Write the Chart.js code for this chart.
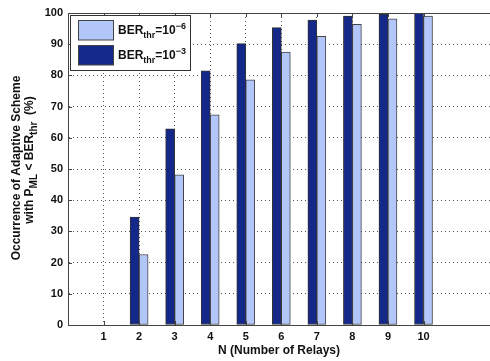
<!DOCTYPE html>
<html>
<head>
<meta charset="utf-8">
<script src="https://cdn.jsdelivr.net/npm/chart.js@4"></script>
<style>
  html, body { margin: 0; padding: 0; background: #fff; }
  #wrap { width: 490px; height: 361px; position: relative; }
</style>
</head>
<body>
<div id="wrap"><canvas id="chart"></canvas></div>
<script>
// data
const relays = [1, 2, 3, 4, 5, 6, 7, 8, 9, 10];
const occurrenceBer3 = [0, 34.6, 62.9, 81.5, 90.2, 95.3, 97.7, 99.0, 99.6, 99.9]; // BER_thr = 10^-3
const occurrenceBer6 = [0, 22.6, 48.1, 67.4, 78.6, 87.5, 92.5, 96.4, 98.1, 99.0]; // BER_thr = 10^-6
const yTicks = [0, 10, 20, 30, 40, 50, 60, 70, 80, 90, 100];
const legendExponents = ["\u22126", "\u22123"];

const darkBlue = "#14288a";
const lightBlue = "#b3c6fa";
const FONT = "'Liberation Sans', Arial, sans-serif";

function richWidth(ctx, parts, size, small) {
  let w = 0;
  for (const [t, k] of parts) {
    ctx.font = "bold " + (k === "n" ? size : small) + "px " + FONT;
    w += ctx.measureText(t).width;
  }
  return w;
}

function drawRich(ctx, parts, x, y, size, small) {
  for (const [t, k] of parts) {
    ctx.font = "bold " + (k === "n" ? size : small) + "px " + FONT;
    const dy = k === "sub" ? 4 : k === "sup" ? -5 : 0;
    ctx.fillText(t, x, y + dy);
    x += ctx.measureText(t).width;
  }
}

// frame, inner tick marks, legend and y title (needs sub/superscripts)
const extras = {
  id: "extras",
  afterDatasetsDraw(chart) {
    const ctx = chart.ctx;
    const area = chart.chartArea;
    const xs = chart.scales.x, ys = chart.scales.y;
    ctx.save();
    ctx.strokeStyle = "#444";
    ctx.lineWidth = 1;
    ctx.beginPath();
    ctx.moveTo(area.left, area.top + 0.5);
    ctx.lineTo(area.right, area.top + 0.5);
    for (const v of relays) {
      const px = Math.round(xs.getPixelForValue(v)) + 0.5;
      ctx.moveTo(px, area.bottom); ctx.lineTo(px, area.bottom - 4);
      ctx.moveTo(px, area.top); ctx.lineTo(px, area.top + 4);
    }
    for (const v of yTicks) {
      const py = Math.round(ys.getPixelForValue(v)) + 0.5;
      ctx.moveTo(area.left, py); ctx.lineTo(area.left + 4, py);
    }
    ctx.stroke();

    // legend
    ctx.fillStyle = "#fff";
    ctx.fillRect(70.5, 15.5, 120, 55);
    ctx.strokeStyle = "#333";
    ctx.strokeRect(70.5, 15.5, 120, 55);
    const colors = [lightBlue, darkBlue];
    const rows = [20.5, 45.5];
    for (let i = 0; i < 2; i++) {
      ctx.fillStyle = colors[i];
      ctx.fillRect(78.5, rows[i], 35, 19.5);
      ctx.strokeStyle = "#444";
      ctx.strokeRect(78.5, rows[i], 35, 19.5);
      ctx.fillStyle = "#111";
      ctx.textBaseline = "alphabetic";
      ctx.textAlign = "left";
      drawRich(ctx, [["BER", "n"], ["thr", "sub"], ["=10", "n"], [legendExponents[i], "sup"]],
        118, rows[i] + 13, 12, 9);
    }

    // y axis title, two rotated lines
    const line1 = [["Occurrence of Adaptive Scheme", "n"]];
    const line2 = [["with P", "n"], ["ML", "sub"], [" < BER", "n"], ["thr", "sub"], ["  (%)", "n"]];
    ctx.fillStyle = "#111";
    [[line1, 20, 168], [line2, 33, 160]].forEach(([parts, bx, cy]) => {
      ctx.save();
      ctx.translate(bx, cy);
      ctx.rotate(-Math.PI / 2);
      const w = richWidth(ctx, parts, 12, 10);
      drawRich(ctx, parts, -w / 2, 0, 12, 10);
      ctx.restore();
    });
    ctx.restore();
  }
};

new Chart(document.getElementById("chart"), {
  type: "bar",
  data: {
    datasets: [
      {
        label: "BER_thr=10^-3",
        data: relays.map((n, i) => ({ x: n, y: occurrenceBer3[i] })),
        backgroundColor: darkBlue,
        borderColor: "#333",
        borderWidth: 1,
        borderSkipped: false,
        barThickness: 9
      },
      {
        label: "BER_thr=10^-6",
        data: relays.map((n, i) => ({ x: n, y: occurrenceBer6[i] })),
        backgroundColor: lightBlue,
        borderColor: "#444",
        borderWidth: 1,
        borderSkipped: false,
        barThickness: 9
      }
    ]
  },
  options: {
    responsive: true,
    maintainAspectRatio: false,
    animation: false,
    layout: { padding: { top: 13, left: 0, right: 0, bottom: 0 } },
    plugins: { legend: { display: false }, tooltip: { enabled: false } },
    scales: {
      x: {
        type: "linear",
        offset: false,
        min: 0,
        max: 11.87,
        afterBuildTicks: (s) => { s.ticks = relays.map((v) => ({ value: v })); },
        afterFit: (s) => { s.height = 36; },
        grid: { color: "#555", drawTicks: false, offset: false },
        border: { color: "#444", dash: [1, 3] },
        ticks: { padding: 5, color: "#111", font: { family: FONT, size: 11, weight: "bold" } },
        title: {
          display: true,
          text: "N (Number of Relays)",
          color: "#111",
          padding: { top: 0, bottom: 3 },
          font: { family: FONT, size: 12, weight: "bold" }
        }
      },
      y: {
        min: 0,
        max: 100,
        afterBuildTicks: (s) => { s.ticks = yTicks.map((v) => ({ value: v })); },
        afterFit: (s) => { s.width = 68; },
        grid: { color: "#555", drawTicks: false },
        border: { color: "#444", dash: [1, 3] },
        ticks: { padding: 5, color: "#111", font: { family: FONT, size: 11, weight: "bold" } }
      }
    }
  },
  plugins: [extras]
});
</script>
</body>
</html>
